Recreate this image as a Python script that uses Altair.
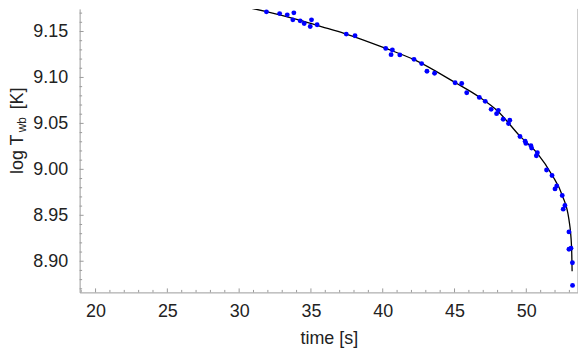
import altair as alt
import pandas as pd

# measured points (time [s], log T_wb [K])
pt_time = [27.21, 31.90, 32.82, 33.35, 33.81, 33.74, 34.25, 34.53, 35.04, 34.95, 35.43,
           37.46, 38.07, 40.21, 40.67, 40.58, 41.19, 42.18, 42.71, 43.08, 43.61,
           45.04, 45.50, 45.85, 46.73, 47.14, 47.55, 48.05, 47.93, 48.39, 48.85, 48.76,
           49.56, 49.92, 49.97, 50.32, 50.37, 50.77, 50.70, 51.41, 51.79, 52.12, 52.00,
           52.50, 52.69, 52.57, 52.97, 53.11, 52.97, 53.21, 53.22]
pt_logT = [9.1833, 9.1714, 9.1695, 9.1681, 9.1703, 9.1627, 9.1616, 9.1587, 9.1627, 9.1554, 9.1573,
           9.1472, 9.1454, 9.1316, 9.1299, 9.1248, 9.1245, 9.1197, 9.1151, 9.1067, 9.1046,
           9.0942, 9.0934, 9.0834, 9.0783, 9.0740, 9.0653, 9.0642, 9.0606, 9.0545, 9.0534, 9.0498,
           9.0357, 9.0307, 9.0282, 9.0258, 9.0231, 9.0180, 9.0148, 8.9993, 8.9933, 8.9820, 8.9787,
           8.9715, 8.9606, 8.9567, 8.9319, 8.9141, 8.9130, 8.8984, 8.8737]

# fitted curve
fit_time = [28.11, 31.90, 34.14, 36.22, 37.46, 40.21, 42.22, 45.04, 46.73, 48.00,
            49.56, 50.77, 51.79, 52.50, 52.97, 53.15, 53.19]
fit_logT = [9.1833, 9.1717, 9.1627, 9.1530, 9.1472, 9.1316, 9.1191, 9.0945, 9.0786, 9.0635,
            9.0361, 9.0174, 8.9939, 8.9719, 8.9452, 8.9163, 8.8892]

x_major = [20, 25, 30, 35, 40, 45, 50]
x_minor = [v for v in range(19, 54) if v % 5 != 0]
y_major = [8.90, 8.95, 9.00, 9.05, 9.10, 9.15]
y_minor = [round(8.87 + 0.01 * i, 2) for i in range(31)]
y_minor = [v for v in y_minor if round(v * 100) % 5 != 0]

XDOM = [18.89, 53.6]
YDOM = [8.8661, 9.1746]
W, H = 501, 285
GREY = "#9a9a9a"
FONT = "Liberation Sans"

xs = alt.Scale(domain=XDOM, nice=False, zero=False)
ys = alt.Scale(domain=YDOM, nice=False, zero=False)

pts = pd.DataFrame({"t": pt_time, "y": pt_logT})
fit = pd.DataFrame({"t": fit_time, "y": fit_logT})

xaxis = alt.Axis(values=x_major, format="d", grid=False, tickSize=0, labelPadding=10,
                 labelFontSize=18, labelColor="#222", domainColor=GREY,
                 title="time [s]", titleFontSize=18, titleFontWeight="normal",
                 titleColor="#222", titlePadding=9, labelFont=FONT, titleFont=FONT)
yaxis = alt.Axis(values=y_major, format=".2f", grid=False, tickSize=0, labelPadding=12,
                 labelFontSize=18, labelColor="#222", domainColor=GREY, title=None,
                 labelFont=FONT)

line = alt.Chart(fit).mark_line(color="black", strokeWidth=1.3, clip=True,
                                interpolate="monotone").encode(
    x=alt.X("t:Q", scale=xs, axis=xaxis),
    y=alt.Y("y:Q", scale=ys, axis=yaxis),
)
dots = alt.Chart(pts).mark_circle(color="#0000ff", opacity=1, size=24, clip=True).encode(
    x=alt.X("t:Q", scale=xs), y=alt.Y("y:Q", scale=ys))

xmaj = alt.Chart(pd.DataFrame({"v": x_major})).mark_rule(color=GREY, strokeWidth=1).encode(
    x=alt.X("v:Q", scale=xs), y=alt.value(H), y2=alt.value(H - 4))
xmin = alt.Chart(pd.DataFrame({"v": x_minor})).mark_rule(color=GREY, strokeWidth=1).encode(
    x=alt.X("v:Q", scale=xs), y=alt.value(H), y2=alt.value(H - 2.5))
ymaj = alt.Chart(pd.DataFrame({"v": y_major})).mark_rule(color=GREY, strokeWidth=1).encode(
    y=alt.Y("v:Q", scale=ys), x=alt.value(0), x2=alt.value(4))
ymin = alt.Chart(pd.DataFrame({"v": y_minor})).mark_rule(color=GREY, strokeWidth=1).encode(
    y=alt.Y("v:Q", scale=ys), x=alt.value(0), x2=alt.value(2.5))
right = alt.Chart(pd.DataFrame({"v": [0]})).mark_rule(color=GREY, strokeWidth=1).encode(
    x=alt.value(W), y=alt.value(0), y2=alt.value(H))

title_parts = pd.DataFrame({"txt": ["log T", "wb", "[K]"],
                            "px": [-57, -54, -57], "py": [166, 124, 101],
                            "fs": [18, 12, 18]})
ytitle = alt.Chart(title_parts).mark_text(angle=270, align="left", baseline="alphabetic",
                                           color="#222", font=FONT).encode(
    x=alt.X("px:Q", scale=None), y=alt.Y("py:Q", scale=None), text="txt:N",
    size=alt.Size("fs:Q", scale=None, legend=None))

chart = alt.layer(xmaj, xmin, ymaj, ymin, right, line, dots, ytitle).properties(
    width=W, height=H,
    autosize=alt.AutoSizeParams(type="none"),
    padding={"left": 72, "top": 0, "right": 0, "bottom": 56},
).configure_view(stroke=None)

chart.save("out.html", embed_options={"renderer": "svg", "actions": False})
